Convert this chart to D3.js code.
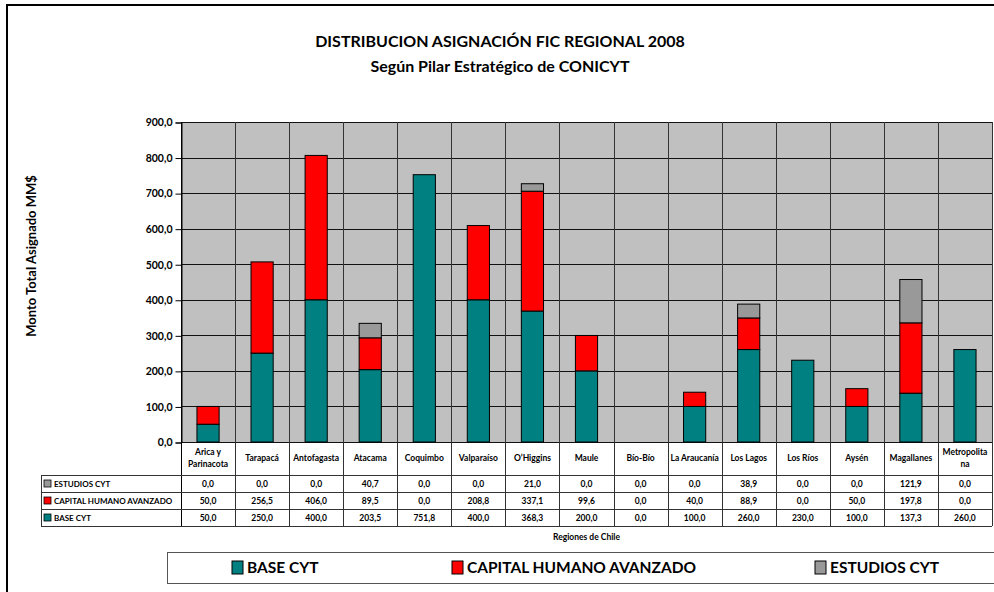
<!DOCTYPE html>
<html>
<head>
<meta charset="utf-8">
<script src="https://cdn.jsdelivr.net/npm/d3@7"></script>
<style>
body{margin:0;background:#fff;}
svg{display:block;font-family:Lato,"Open Sans",sans-serif;font-weight:bold;}
</style>
</head>
<body>
<script>
//chart data
var regions=["Arica y|Parinacota","Tarapacá","Antofagasta","Atacama","Coquimbo","Valparaíso","O’Higgins","Maule","Bío-Bío","La Araucanía","Los Lagos","Los Ríos","Aysén","Magallanes","Metropolita|na"];
var seriesNames=["BASE CYT","CAPITAL HUMANO AVANZADO","ESTUDIOS CYT"];
var seriesColors=["#008080","#ff0000","#999999"];
var baseCyt=[50,250,400,203.5,751.8,400,368.3,200,0,100,260,230,100,137.3,260];
var capitalHumano=[50,256.5,406,89.5,0,208.8,337.1,99.6,0,40,88.9,0,50,197.8,0];
var estudiosCyt=[0,0,0,40.7,0,0,21,0,0,0,38.9,0,0,121.9,0];
var yTicks=[0,100,200,300,400,500,600,700,800,900];

(function(){
	var width=994,height=592;
	//plot frame
	var left=181,right=992,top=122,bottom=442;
	//table rows
	var headerBottom=475,rowH=17,tableLeft=41;

	//spanish number format
	var fmt=d3.formatLocale({decimal:",",thousands:".",grouping:[3],currency:["$",""]}).format(".1f");

	var svg=d3.select("body").append("svg")
		.attr("width",width)
		.attr("height",height);

	//build table of values for stacking
	var table=regions.map(function(r,i){
		return {region:r,s0:baseCyt[i],s1:capitalHumano[i],s2:estudiosCyt[i]};
	});
	var stack=d3.stack().keys(["s0","s1","s2"])(table);
	var valueArrays=[baseCyt,capitalHumano,estudiosCyt];

	var x=d3.scaleBand()
		.domain(regions)
		.range([left,right]);
	var y=d3.scaleLinear()
		.domain([0,900])
		.range([bottom,top]);

	//figure border
	svg.append("rect")
		.attr("x",7).attr("y",5)
		.attr("width",1000).attr("height",600)
		.attr("fill","none")
		.attr("stroke","#000")
		.attr("stroke-width",2);

	//plot background
	svg.append("rect")
		.attr("x",left).attr("y",top)
		.attr("width",right-left).attr("height",bottom-top)
		.attr("fill","#c0c0c0");

	//horizontal gridlines
	svg.selectAll(".hgrid")
		.data(yTicks)
		.enter()
		.append("line")
		.attr("x1",left).attr("x2",right)
		.attr("y1",function(d){return Math.round(y(d))+0.5;})
		.attr("y2",function(d){return Math.round(y(d))+0.5;})
		.attr("stroke","#111");

	//vertical gridlines (category boundaries), running down through table
	var bounds=regions.map(function(r){return x(r);}).concat([right]);
	svg.selectAll(".vgrid")
		.data(bounds)
		.enter()
		.append("line")
		.attr("x1",function(d){return Math.round(d)+0.5;})
		.attr("x2",function(d){return Math.round(d)+0.5;})
		.attr("y1",top)
		.attr("y2",headerBottom+rowH*3)
		.attr("stroke",function(d,i){return i==0?"#000":"#333";});

	//stacked bars
	var barW=x.bandwidth()*0.41;
	svg.selectAll(".series")
		.data(stack)
		.enter()
		.append("g")
		.attr("fill",function(d,i){return seriesColors[i];})
		.selectAll("rect")
		.data(function(d){return d;})
		.enter()
		.filter(function(d){return d[1]-d[0]>0;})
		.append("rect")
		.attr("x",function(d){return x(d.data.region)+(x.bandwidth()-barW)/2;})
		.attr("width",barW)
		.attr("y",function(d){return y(d[1]);})
		.attr("height",function(d){return y(d[0])-y(d[1]);})
		.attr("stroke","#000")
		.attr("stroke-width",1);

	//y axis
	var yAxis=d3.axisLeft(y)
		.tickValues(yTicks)
		.tickSize(6)
		.tickFormat(fmt);
	var axis=svg.append("g")
		.attr("transform","translate("+(left+0.5)+",0.5)")
		.call(yAxis);
	axis.select(".domain").attr("stroke","#000");
	axis.selectAll("text")
		.attr("font-family","Lato,sans-serif")
		.attr("font-weight","bold")
		.attr("font-size",10.5)
		.attr("fill","#000")
		.attr("x",-9);

	//table header row: region names
	var heads=svg.selectAll(".head")
		.data(regions)
		.enter()
		.append("text")
		.attr("text-anchor","middle")
		.attr("font-size",8.5)
		.attr("x",function(d){return x(d)+x.bandwidth()/2;})
		.attr("y",function(d){return d.indexOf("|")>=0?455:461;});
	heads.selectAll("tspan")
		.data(function(d){return d.split("|");})
		.enter()
		.append("tspan")
		.attr("x",function(){return d3.select(this.parentNode).attr("x");})
		.attr("dy",function(d,i){return i==0?0:12;})
		.text(function(d){return d;});

	//table body rows, top row is the last series
	var rowOrder=[2,1,0];
	var tableRight=right;
	//horizontal row lines
	svg.selectAll(".rowline")
		.data([0,1,2,3])
		.enter()
		.append("line")
		.attr("x1",tableLeft)
		.attr("x2",tableRight)
		.attr("y1",function(d){return headerBottom+d*rowH+0.5;})
		.attr("y2",function(d){return headerBottom+d*rowH+0.5;})
		.attr("stroke","#333");
	svg.append("line")
		.attr("x1",tableLeft+0.5).attr("x2",tableLeft+0.5)
		.attr("y1",headerBottom).attr("y2",headerBottom+rowH*3)
		.attr("stroke","#333");

	rowOrder.forEach(function(s,r){
		var rowY=headerBottom+r*rowH;
		//legend key in label cell
		svg.append("rect")
			.attr("x",tableLeft+3).attr("y",rowY+5)
			.attr("width",7).attr("height",7)
			.attr("fill",seriesColors[s])
			.attr("stroke","#000")
			.attr("stroke-width",0.8);
		svg.append("text")
			.attr("x",tableLeft+13)
			.attr("y",rowY+12)
			.attr("font-size",8)
			.text(seriesNames[s]);
		//values
		svg.selectAll(".val"+s)
			.data(valueArrays[s])
			.enter()
			.append("text")
			.attr("text-anchor","middle")
			.attr("font-size",8.5)
			.attr("x",function(d,i){return x(regions[i])+x.bandwidth()/2;})
			.attr("y",rowY+12)
			.text(function(d){return fmt(d);});
	});

	//titles
	svg.append("text")
		.attr("x",500).attr("y",47)
		.attr("text-anchor","middle")
		.attr("font-size",16)
		.text("DISTRIBUCION ASIGNACIÓN FIC REGIONAL 2008");
	svg.append("text")
		.attr("x",500).attr("y",72)
		.attr("text-anchor","middle")
		.attr("font-size",16)
		.text("Según Pilar Estratégico de CONICYT");

	//axis titles
	svg.append("text")
		.attr("transform","translate(36,256) rotate(-90)")
		.attr("text-anchor","middle")
		.attr("font-size",13)
		.text("Monto Total Asignado MM$");
	svg.append("text")
		.attr("x",(left+right)/2).attr("y",540)
		.attr("text-anchor","middle")
		.attr("font-size",8.5)
		.text("Regiones de Chile");

	//legend box
	svg.append("rect")
		.attr("x",167.5).attr("y",552.5)
		.attr("width",840).attr("height",31)
		.attr("fill","#fff")
		.attr("stroke","#555");
	var legendX=[232,452,815];
	var legend=svg.selectAll(".legend")
		.data(seriesNames)
		.enter()
		.append("g")
		.attr("transform",function(d,i){return "translate("+legendX[i]+",561)";});
	legend.append("rect")
		.attr("width",11).attr("height",13)
		.attr("fill",function(d,i){return seriesColors[i];})
		.attr("stroke","#000");
	legend.append("text")
		.attr("x",15).attr("y",12)
		.attr("font-size",15.5)
		.text(function(d){return d;});
})();
</script>
</body>
</html>
